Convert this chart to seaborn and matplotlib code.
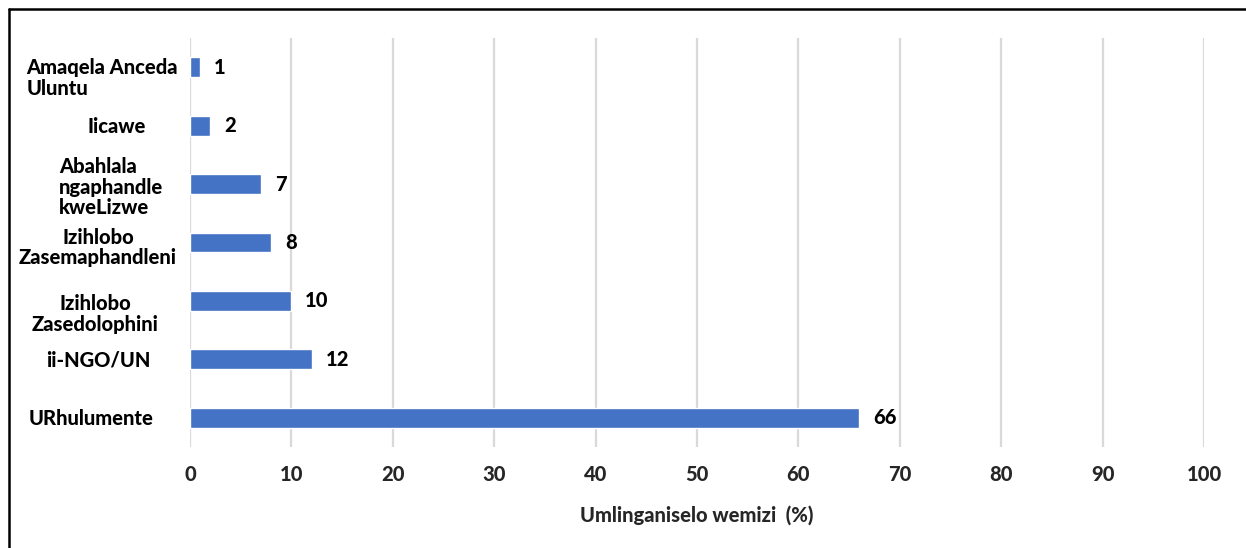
import matplotlib
matplotlib.use("Agg")
import matplotlib.pyplot as plt
import matplotlib.transforms as mtransforms
from matplotlib.lines import Line2D
import seaborn as sns
import pandas as pd

# Data
categories = [
    "Amaqela Anceda\nUluntu",
    "Iicawe",
    "Abahlala\nngaphandle\nkweLizwe",
    "Izihlobo\nZasemaphandleni",
    "Izihlobo\nZasedolophini",
    "ii-NGO/UN",
    "URhulumente",
]
values = [1, 2, 7, 8, 10, 12, 66]
x_ticks = [0, 10, 20, 30, 40, 50, 60, 70, 80, 90, 100]
x_label = "Umlinganiselo wemizi  (%)"

# Category label layout: (centre x in px, multi-line alignment, vertical nudge in px)
label_layout = [
    (102, "left", 11),
    (117, "center", 1),
    (111, "left", 3),
    (98, "center", 5),
    (95, "center", 13),
    (98, "center", 1),
    (91, "center", 1),
]

W, H = 1246, 548
sns.set_theme(style="white")
plt.rcParams["font.family"] = ["Lato", "DejaVu Sans"]

BAR = "#4472C4"
GRID = "#D9D9D9"
FS = 14.5
WT = 900

df = pd.DataFrame({"cat": categories, "val": values})

fig = plt.figure(figsize=(W / 100, H / 100), dpi=100)
ax = fig.add_axes([190 / W, 1 - 447 / H, (1204 - 190) / W, (447 - 38) / H])

sns.barplot(data=df, y="cat", x="val", orient="h", color=BAR, saturation=1,
            width=0.34, ax=ax, zorder=3)

ax.set_xlim(0, 100)
ax.set_ylim(len(categories) - 0.5, -0.5)
ax.set_xticks(x_ticks)
ax.set_xticklabels([str(t) for t in x_ticks], fontsize=FS, fontweight=WT)
ax.tick_params(axis="x", length=0, pad=13)
ax.set_yticks([])
ax.set_ylabel("")
ax.set_xlabel(x_label, fontsize=FS, fontweight=WT, labelpad=15)
ax.xaxis.grid(True, color=GRID, linewidth=1.6, zorder=0)
ax.yaxis.grid(False)
for s in ax.spines.values():
    s.set_visible(False)

# Value labels at the end of each bar
for i, v in enumerate(values):
    ax.annotate(str(v), xy=(v, i), xytext=(10, 0), textcoords="offset points",
                ha="left", va="center", fontsize=FS, fontweight=WT,
                color="black")

# Category labels
trans = mtransforms.blended_transform_factory(fig.transFigure, ax.transData)
for i, (cat, (cx, malign, dy)) in enumerate(zip(categories, label_layout)):
    ax.text(cx / W, i + dy / 58.5, cat, transform=trans, ha="center",
            va="center", multialignment=malign, fontsize=FS,
            fontweight=WT, color="black", linespacing=1.1, clip_on=False)

# Frame lines along the top and left edges
fig.add_artist(Line2D([8.5 / W, 1], [1 - 8.5 / H, 1 - 8.5 / H],
                      transform=fig.transFigure, color="black", linewidth=1.8))
fig.add_artist(Line2D([8.5 / W, 8.5 / W], [0, 1 - 8.5 / H],
                      transform=fig.transFigure, color="black", linewidth=1.8))

fig.savefig("out.png", dpi=100, facecolor="white")
